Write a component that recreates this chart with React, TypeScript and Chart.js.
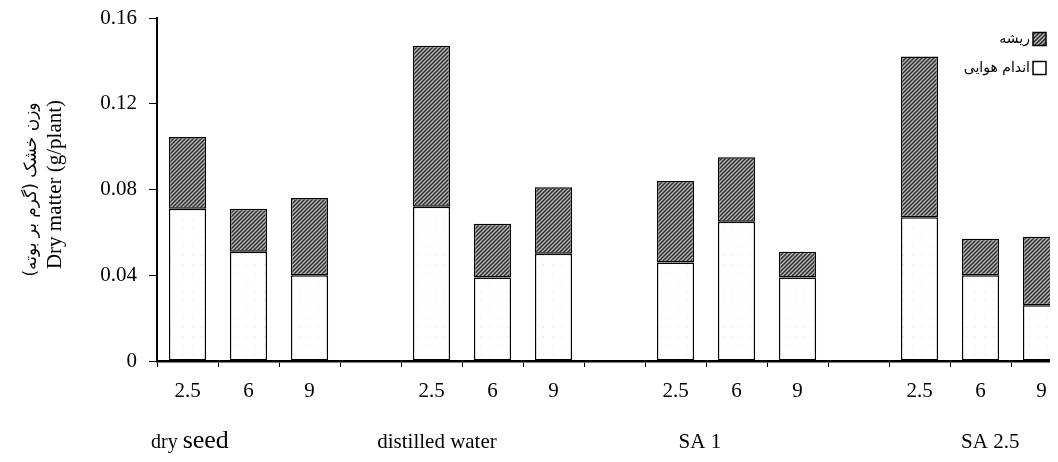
import React, { useEffect, useRef } from 'react';
import { Chart, registerables } from 'chart.js';

Chart.register(...registerables);

const categories = ['2.5', '6', '9', '', '2.5', '6', '9', '', '2.5', '6', '9', '', '2.5', '6', '9'];
const shootValues = [0.071, 0.051, 0.040, null, 0.072, 0.039, 0.050, null, 0.046, 0.065, 0.039, null, 0.067, 0.040, 0.026];
const rootValues = [0.0335, 0.020, 0.036, null, 0.075, 0.025, 0.031, null, 0.038, 0.030, 0.012, null, 0.075, 0.017, 0.032];
const yTicks = [0, 0.04, 0.08, 0.12, 0.16];
const groupNames = ['dry seed', 'distilled water', 'SA 1', 'SA 2.5'];
const groupPositions = [0.04, 4.09, 8.4, 13.16];
const legendLabels = ['ریشه', 'اندام هوایی'];
const titleLines = ['وزن خشک (گرم بر بوته)', 'Dry matter (g/plant)'];

function makeHatch(): CanvasPattern | string {
  const c = document.createElement('canvas');
  c.width = 4;
  c.height = 4;
  const g = c.getContext('2d');
  if (!g) return '#777';
  g.fillStyle = '#b8b8b8';
  g.fillRect(0, 0, 4, 4);
  g.strokeStyle = '#2e2e2e';
  g.lineWidth = 1.5;
  g.beginPath();
  g.moveTo(-1, 5); g.lineTo(5, -1);
  g.moveTo(-1, 1); g.lineTo(1, -1);
  g.moveTo(3, 5); g.lineTo(5, 3);
  g.stroke();
  return g.createPattern(c, 'repeat') || '#777';
}

function makeDots(): CanvasPattern | string {
  const c = document.createElement('canvas');
  c.width = 9;
  c.height = 9;
  const g = c.getContext('2d');
  if (!g) return '#fff';
  g.fillStyle = '#ffffff';
  g.fillRect(0, 0, 9, 9);
  g.fillStyle = '#e4e4e4';
  g.fillRect(4, 4, 1, 1);
  return g.createPattern(c, 'repeat') || '#fff';
}

export default function App() {
  const ref = useRef<HTMLCanvasElement | null>(null);

  useEffect(() => {
    if (!ref.current) return;
    const hatch = makeHatch();
    const dots = makeDots();
    const serif = 'Liberation Serif';

    const extras = {
      id: 'extras',
      afterDraw(chart: any) {
        const ctx = chart.ctx as CanvasRenderingContext2D;
        const area = chart.chartArea;
        const cy = (area.top + area.bottom) / 2;

        // y-axis title (two lines)
        ctx.save();
        ctx.translate(24, cy);
        ctx.rotate(-Math.PI / 2);
        ctx.fillStyle = '#000';
        ctx.textAlign = 'center';
        ctx.textBaseline = 'middle';
        ctx.font = '17px "DejaVu Sans"';
        (ctx as any).direction = 'rtl';
        ctx.fillText(titleLines[0], 0, 0);
        (ctx as any).direction = 'ltr';
        ctx.font = `21px "${serif}"`;
        ctx.fillText(titleLines[1], 5, 23);
        ctx.restore();

        // group labels under the category ticks
        const xs = chart.scales.x;
        const step = xs.getPixelForValue(1) - xs.getPixelForValue(0);
        ctx.save();
        ctx.fillStyle = '#000';
        ctx.textBaseline = 'alphabetic';
        ctx.textAlign = 'left';
        const baseY = 440;
        groupNames.forEach((name, i) => {
          const cx = xs.getPixelForValue(0) + groupPositions[i] * step;
          if (i === 0) {
            const parts = name.split(' ');
            ctx.font = `20px "${serif}"`;
            const w1 = ctx.measureText(parts[0] + ' ').width;
            ctx.font = `26px "${serif}"`;
            const w2 = ctx.measureText(parts[1]).width;
            const x0 = cx - (w1 + w2) / 2;
            ctx.font = `20px "${serif}"`;
            ctx.fillText(parts[0] + ' ', x0, baseY);
            ctx.font = `26px "${serif}"`;
            ctx.fillText(parts[1], x0 + w1, baseY);
          } else {
            ctx.font = `21px "${serif}"`;
            const w = ctx.measureText(name).width;
            ctx.fillText(name, cx - w / 2, baseY);
          }
        });
        ctx.restore();

        // legend
        ctx.save();
        const boxes = [hatch, '#ffffff'];
        const rowsY = [31, 60];
        ctx.font = '14px "DejaVu Sans"';
        ctx.textBaseline = 'middle';
        for (let i = 0; i < 2; i++) {
          const bx = 1025;
          const by = rowsY[i] - 6.5;
          ctx.fillStyle = boxes[i] as any;
          ctx.fillRect(bx, by, 13, 13);
          ctx.strokeStyle = '#000';
          ctx.lineWidth = 1.5;
          ctx.strokeRect(bx, by, 13, 13);
          ctx.fillStyle = '#000';
          (ctx as any).direction = 'rtl';
          ctx.textAlign = 'right';
          ctx.fillText(legendLabels[i], bx - 3, rowsY[i]);
        }
        ctx.restore();
      },
    };

    const chart = new Chart(ref.current, {
      type: 'bar',
      data: {
        labels: categories,
        datasets: [
          {
            label: legendLabels[1],
            data: shootValues,
            backgroundColor: dots as any,
            borderColor: '#000',
            borderWidth: 1.5,
            borderSkipped: false,
            categoryPercentage: 1,
            barPercentage: 0.61,
          },
          {
            label: legendLabels[0],
            data: rootValues,
            backgroundColor: hatch as any,
            borderColor: '#000',
            borderWidth: 1.5,
            borderSkipped: false,
            categoryPercentage: 1,
            barPercentage: 0.61,
          },
        ],
      },
      options: {
        animation: false,
        responsive: true,
        maintainAspectRatio: false,
        layout: { padding: { left: 0, top: 0, right: 0, bottom: 0 } },
        plugins: { legend: { display: false }, tooltip: { enabled: false } },
        scales: {
          x: {
            stacked: true,
            offset: true,
            grid: { display: true, drawOnChartArea: false, drawTicks: true, tickLength: 6, color: '#000', lineWidth: 1, offset: true },
            border: { display: true, color: '#000', width: 2.5 },
            ticks: { color: '#000', font: { family: serif, size: 21 }, padding: 12, maxRotation: 0, autoSkip: false },
            afterFit: (s: any) => { s.height = 93; },
          },
          y: {
            stacked: true,
            min: 0,
            max: 0.16,
            afterBuildTicks: (s: any) => { s.ticks = yTicks.map((v) => ({ value: v })); },
            grid: { display: true, drawOnChartArea: false, drawTicks: true, tickLength: 8, color: '#000', lineWidth: 1 },
            border: { display: true, color: '#000', width: 2 },
            ticks: {
              color: '#000',
              font: { family: serif, size: 21, lineHeight: 1 },
              padding: 12,
              callback: (v: any) => (Number(v) === 0 ? '0' : Number(v).toFixed(2)),
            },
            afterFit: (s: any) => {
              s.width = 149;
              s.paddingTop = 10;
              s.paddingBottom = 10;
            },
          },
        },
      },
      plugins: [extras],
    });
    return () => chart.destroy();
  }, []);

  return (
    <div style={{ width: 1050, height: 446, overflow: 'hidden' }}>
      <div style={{ width: 1064, height: 446, position: 'relative' }}>
        <canvas ref={ref} />
      </div>
    </div>
  );
}
